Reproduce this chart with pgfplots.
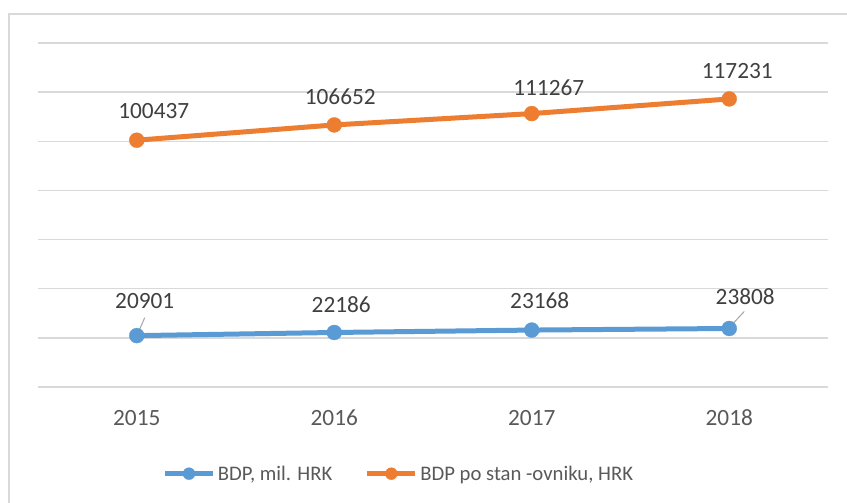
\documentclass[border=0pt]{standalone}
\usepackage{fontspec}
\setmainfont{Carlito}
\usepackage{pgfplots}
\pgfplotsset{compat=1.18}
\definecolor{bluec}{HTML}{5B9BD5}
\definecolor{orangec}{HTML}{ED7D31}
\definecolor{gridc}{HTML}{D9D9D9}
\definecolor{tickc}{HTML}{595959}
\definecolor{labc}{HTML}{404040}
\definecolor{leadc}{HTML}{A6A6A6}
\newcommand{\bigf}{\fontsize{23.3}{28}\selectfont}
\newcommand{\legf}{\fontsize{20.7}{25}\selectfont}
\begin{document}
\begin{tikzpicture}[x=1pt,y=1pt]
\useasboundingbox (0,0) rectangle (847,503);
\fill[white] (0,0) rectangle (847,503);
\draw[gridc, line width=2pt] (9,-2) -- (9,489) -- (849,489);
\begin{axis}[
  at={(38pt,116pt)}, anchor=south west,
  scale only axis, width=790pt, height=344pt,
  xmin=2014.5, xmax=2018.5, ymin=0, ymax=140000,
  xtick={2015,2016,2017,2018}, xticklabels={2015,2016,2017,2018},
  ytick={0,20000,...,140000}, yticklabels={}, scaled y ticks=false,
  ymajorgrids, grid style={draw=gridc, line width=1.5pt},
  axis line style={draw=none}, major tick length=0pt,
  xticklabel style={font=\bigf, text=tickc, anchor=center, yshift=-31pt},
  clip=false,
  legend columns=2,
  legend style={at={(0.457,-0.252)}, anchor=center, draw=none, fill=none,
    font=\legf, text=tickc, inner sep=0pt,
    /tikz/every even column/.append style={column sep=30pt},
    nodes={inner sep=2.5pt}},
  legend image code/.code={\draw[#1, mark size=6pt, mark repeat=2, mark phase=2] plot coordinates {(0pt,0pt) (24pt,0pt) (48pt,0pt)};},
]
\addplot[color=bluec, line width=5pt, mark=*, mark size=7.5pt,
  mark options={solid, fill=bluec, draw=bluec, line width=0.3pt}]
  coordinates {(2015,20901) (2016,22186) (2017,23168) (2018,23808)};
\addlegendentry{BDP, mil. HRK}
\addplot[color=orangec, line width=5pt, mark=*, mark size=7.5pt,
  mark options={solid, fill=orangec, draw=orangec, line width=0.3pt}]
  coordinates {(2015,100437) (2016,106652) (2017,111267) (2018,117231)};
\addlegendentry{BDP po stan -ovniku, HRK}
% data labels
\node[font=\bigf, text=labc, xshift=17pt, yshift=29pt] at (axis cs:2015,100437) {100437};
\node[font=\bigf, text=labc, xshift=6pt, yshift=28pt] at (axis cs:2016,106652) {106652};
\node[font=\bigf, text=labc, xshift=17pt, yshift=26pt] at (axis cs:2017,111267) {111267};
\node[font=\bigf, text=labc, xshift=8pt, yshift=28pt] at (axis cs:2018,117231) {117231};
\node[font=\bigf, text=labc, xshift=8pt, yshift=35pt] at (axis cs:2015,20901) {20901};
\node[font=\bigf, text=labc, xshift=7pt, yshift=28pt] at (axis cs:2016,22186) {22186};
\node[font=\bigf, text=labc, xshift=8pt, yshift=29pt] at (axis cs:2017,23168) {23168};
\node[font=\bigf, text=labc, xshift=16pt, yshift=32pt] at (axis cs:2018,23808) {23808};
\draw[leadc, line width=1pt] (axis cs:2015,20901) ++(1pt,2pt) -- ++(7pt,16pt);
\draw[leadc, line width=1pt] (axis cs:2018,23808) ++(1pt,2pt) -- ++(14pt,15pt);
\end{axis}
\end{tikzpicture}
\end{document}
